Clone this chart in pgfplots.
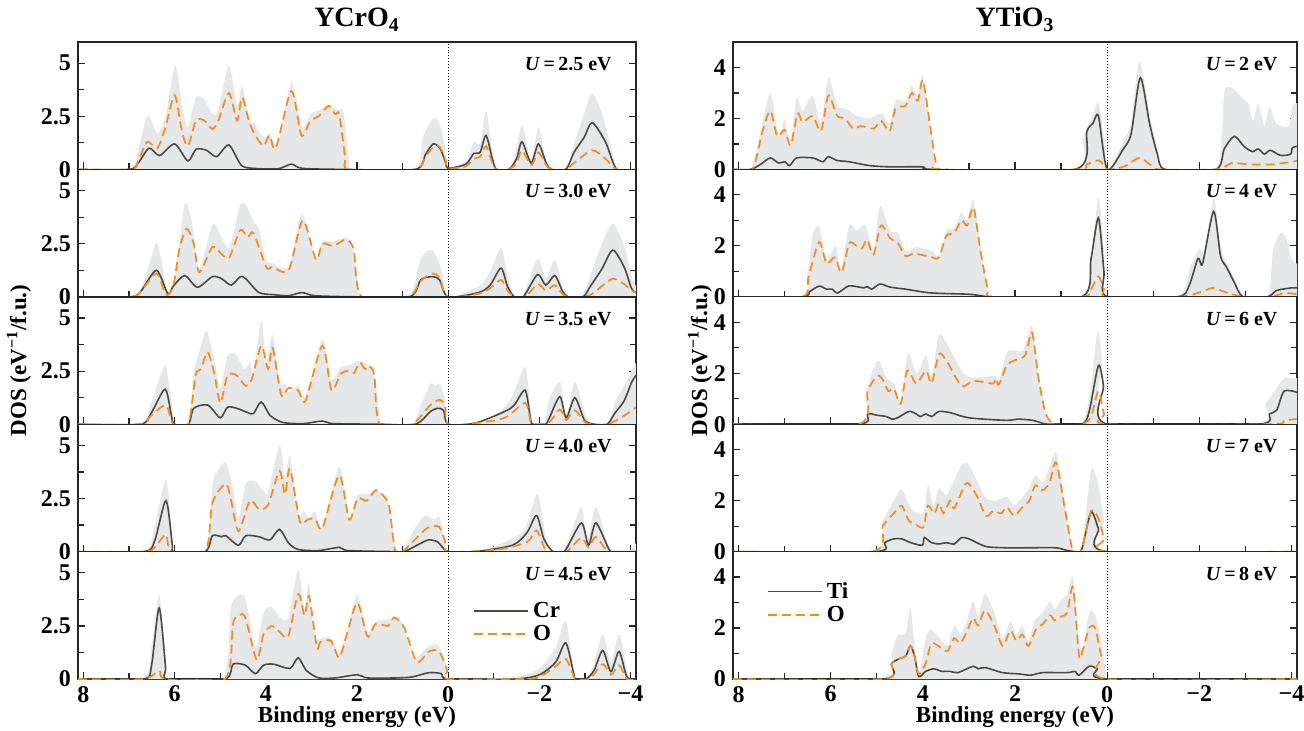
\documentclass[border=0pt]{standalone}
\usepackage{fontspec}
\setmainfont{Liberation Serif}
\usepackage{pgfplots}
\pgfplotsset{compat=1.18}
\definecolor{dosgrey}{HTML}{E6E7E8}
\definecolor{crline}{HTML}{4A4A42}
\definecolor{oline}{HTML}{F58A1F}
\newcommand\tickfont{\fontsize{12}{14}\selectfont\bfseries}
\newcommand\ulab[1]{\fontsize{10}{12}\selectfont\bfseries\textit{U}\,=\,#1 eV}
\tikzset{ulabst/.style={anchor=east, inner sep=0pt}}
\pgfplotsset{
  dosbase/.style={
    scale only axis, anchor=north west,
    xmin=-4.12, xmax=8.12, x dir=reverse, ymin=0,
    axis line style={line width=0.7pt, draw=black!85},
    tick align=inside, xtick pos=left, ytick pos=both, yticklabel pos=left,
    xtick={-4,-2,0,2,4,6,8}, minor xtick={-3,-1,1,3,5,7},
    xticklabels={},
    major tick length=3.5pt, minor tick length=3pt,
    every tick/.style={line width=0.6pt, black!85},
    tick label style={font=\tickfont},
    clip=true,
    every axis title/.style={at={(0.5,1)}, anchor=base, yshift=7.5pt, font=\fontsize{14}{16}\selectfont\bfseries},
  },
  leftcol/.style={dosbase, width=279pt, height=63.7pt, ymax=6,
    ytick={0,2.5,5}, yticklabels={0,2.5,5}, minor ytick={1.25,3.75}},
  rightcol/.style={dosbase, width=282pt, height=63.7pt, ymax=5,
    ytick={0,2,4}, yticklabels={0,2,4}, minor ytick={1,3}},
  bottomrow/.style={xticklabels={−4,−2,0,2,4,6,8},
    xlabel={Binding energy (eV)},
    xlabel style={font=\fontsize{11.5}{13}\selectfont\bfseries, at={(axis description cs:0.5,-0.3)}, anchor=center}},
  gfill/.style={fill=dosgrey, draw=none, forget plot, smooth, tension=0.45},
  crst/.style={color=crline, line width=0.8pt, smooth, tension=0.45},
  ost/.style={color=oline, line width=0.85pt, dash pattern=on 4.5pt off 2.5pt, smooth, tension=0.45},
  zst/.style={black, densely dotted, line width=0.45pt, forget plot},
  leg/.style={legend style={draw=none, fill=none, font=\fontsize{11.5}{13}\selectfont\bfseries,
     cells={anchor=west}, row sep=-1.5pt, inner sep=0pt},
     legend image code/.code={\draw[##1] (0pt,0pt) -- (27pt,0pt);}},
}
\begin{document}
\begin{tikzpicture}
\useasboundingbox (0,0) rectangle (652pt,-365.5pt);
%================= LEFT COLUMN: YCrO4 =================
\begin{axis}[leftcol, at={(39pt,-21pt)}, title={YCrO\textsubscript{4}}]
\addplot[gfill] coordinates {(8.12,0)(7.0,0)(6.87,0.3)(6.6,2.5)(6.38,1.7)(6.2,2.5)(5.99,4.9)(5.84,3.0)(5.71,2.0)(5.53,3.4)(5.35,3.3)(5.17,2.6)(5.04,2.8)(4.81,4.9)(4.63,3.0)(4.52,3.9)(4.36,2.4)(4.23,2.1)(4.05,1.5)(3.92,1.7)(3.74,1.2)(3.44,4.1)(3.2,2.0)(3.02,2.6)(2.84,2.8)(2.62,3.0)(2.44,2.8)(2.3,2.7)(2.17,0.3)(2.08,0)(0.73,0)(0.56,1.5)(0.33,2.4)(0.2,2.2)(0.08,1.2)(0,0.1)(-0.39,0.4)(-0.56,1.3)(-0.7,1.2)(-0.83,2.75)(-0.97,0.8)(-1.06,0)(-1.33,0)(-1.46,0.6)(-1.62,2.1)(-1.82,0.5)(-1.98,2.0)(-2.13,0.6)(-2.27,0)(-2.58,0)(-2.76,1.2)(-2.98,2.6)(-3.16,3.6)(-3.38,2.6)(-3.6,0.8)(-3.7,0)(-4.12,0)} \closedcycle;
\addplot[zst] coordinates {(0,0)(0,6)};
\addplot[crst] coordinates {(8.12,0)(7.0,0)(6.8,0.3)(6.56,1.0)(6.33,0.65)(6.0,1.2)(5.71,0.4)(5.53,0.95)(5.3,0.9)(5.08,0.6)(4.81,1.15)(4.54,0.2)(4.27,0.05)(3.73,0.03)(3.44,0.25)(3.2,0.05)(2.3,0)(0.73,0)(0.5,0.7)(0.33,1.2)(0.18,1.0)(0.05,0.3)(0,0.05)(-0.39,0.25)(-0.56,0.75)(-0.7,0.8)(-0.83,1.6)(-0.97,0.5)(-1.06,0)(-1.33,0)(-1.5,0.5)(-1.62,1.3)(-1.82,0.3)(-1.98,1.2)(-2.15,0.3)(-2.27,0)(-2.58,0)(-2.76,0.8)(-2.98,1.5)(-3.16,2.2)(-3.45,1.3)(-3.7,0)(-4.12,0)};
\addplot[ost] coordinates {(8.12,0)(6.96,0)(6.8,0.4)(6.6,1.3)(6.38,1.0)(6.2,2.0)(6.0,3.5)(5.84,1.8)(5.71,1.1)(5.53,2.3)(5.35,2.3)(5.17,1.9)(5.04,2.3)(4.81,3.6)(4.63,2.3)(4.52,3.4)(4.36,2.2)(4.23,1.6)(4.05,1.1)(3.92,1.6)(3.78,1.0)(3.44,3.7)(3.22,1.6)(3.02,2.3)(2.84,2.5)(2.62,3.0)(2.48,2.6)(2.39,2.6)(2.26,0.6)(2.17,0)(0.73,0)(0.5,0.6)(0.3,1.1)(0.18,1.05)(0.05,0.4)(0,0.05)(-0.39,0.15)(-0.56,0.5)(-0.7,0.6)(-0.83,1.1)(-0.97,0.3)(-1.06,0)(-1.33,0)(-1.5,0.3)(-1.62,0.9)(-1.82,0.2)(-1.98,0.8)(-2.15,0.2)(-2.27,0)(-2.58,0)(-2.76,0.3)(-3.16,0.9)(-3.45,0.5)(-3.7,0)(-4.12,0)};
\node[ulabst] at (rel axis cs:0.957,0.827) {\ulab{2.5}};
\end{axis}
\begin{axis}[leftcol, at={(39pt,-84.7pt)}]
\addplot[gfill] coordinates {(8.12,0)(7.0,0)(6.76,0.3)(6.56,1.5)(6.4,2.55)(6.27,1.5)(6.15,0.15)(6.03,0.5)(5.9,2.5)(5.77,4.4)(5.62,3.5)(5.46,1.3)(5.17,3.4)(4.97,2.8)(4.8,2.3)(4.56,4.35)(4.4,4.2)(4.27,3.5)(4.15,3.2)(3.99,1.7)(3.86,1.6)(3.5,1.4)(3.21,3.9)(2.92,1.8)(2.76,2.6)(2.52,2.6)(2.27,2.8)(2.11,2.5)(1.99,0.9)(1.86,0)(0.88,0)(0.6,1.8)(0.35,2.2)(0.15,1.3)(0,0)(-0.67,0.5)(-0.92,1.2)(-1.16,2.3)(-1.3,1.0)(-1.45,0)(-1.65,0.1)(-1.96,1.8)(-2.14,0.9)(-2.34,1.75)(-2.5,0.5)(-2.63,0)(-2.92,0)(-3.12,1.0)(-3.37,2.5)(-3.61,3.45)(-3.86,2.4)(-4.02,1.0)(-4.12,0.5)} \closedcycle;
\addplot[zst] coordinates {(0,0)(0,6)};
\addplot[crst] coordinates {(8.12,0)(7.0,0)(6.76,0.2)(6.4,1.25)(6.15,0.15)(6.03,0.5)(5.78,1.0)(5.5,0.45)(5.17,0.95)(4.97,0.85)(4.76,0.55)(4.56,0.95)(4.44,0.85)(4.15,0.2)(3.82,0.1)(3.5,0.05)(3.21,0.2)(2.92,0.05)(2.03,0)(0.85,0)(0.6,0.8)(0.35,0.95)(0.19,0.8)(0,0)(-0.67,0.2)(-0.92,0.55)(-1.16,1.35)(-1.3,0.5)(-1.45,0)(-1.65,0)(-1.96,1.05)(-2.14,0.55)(-2.34,1.0)(-2.5,0.3)(-2.63,0)(-2.96,0)(-3.12,0.5)(-3.37,1.3)(-3.61,2.2)(-3.86,1.4)(-4.02,0.4)(-4.12,0.2)};
\addplot[ost] coordinates {(8.12,0)(7.0,0)(6.76,0.2)(6.4,1.1)(6.19,0.1)(6.03,0.5)(5.9,2.2)(5.74,3.2)(5.58,2.5)(5.46,1.15)(5.17,2.35)(4.97,2.0)(4.8,1.85)(4.56,3.15)(4.4,2.8)(4.27,3.0)(3.99,1.4)(3.86,1.4)(3.5,1.25)(3.19,3.6)(2.9,1.75)(2.76,2.5)(2.52,2.4)(2.23,2.7)(2.07,2.2)(1.9,0)(0.88,0)(0.6,0.75)(0.35,1.1)(0.19,0.9)(0,0)(-0.67,0.15)(-0.92,0.4)(-1.16,0.8)(-1.3,0.3)(-1.45,0)(-1.7,0)(-1.96,0.6)(-2.14,0.3)(-2.34,0.55)(-2.5,0.15)(-2.63,0)(-3.0,0)(-3.2,0.2)(-3.37,0.5)(-3.61,0.85)(-3.86,0.6)(-4.02,0.3)(-4.12,0.2)};
\node[ulabst] at (rel axis cs:0.957,0.827) {\ulab{3.0}};
\end{axis}
\begin{axis}[leftcol, at={(39pt,-148.4pt)},
  ylabel={DOS (eV\textsuperscript{−1}/f.u.)},
  ylabel style={font=\fontsize{11.5}{13}\selectfont\bfseries, at={(axis description cs:-0.106,0.5)}, anchor=center}]
\addplot[gfill] coordinates {(8.12,0)(6.76,0)(6.52,1.0)(6.31,2.3)(6.19,2.7)(6.07,1.0)(6.01,0)(5.7,0)(5.58,2.5)(5.46,3.4)(5.3,4.4)(5.13,3.0)(5.0,1.7)(4.84,3.2)(4.66,3.3)(4.48,2.6)(4.35,2.9)(4.27,2.5)(4.1,4.85)(3.99,3.0)(3.85,4.2)(3.7,2.0)(3.58,1.9)(3.5,1.5)(3.29,1.8)(3.13,1.3)(2.76,4.0)(2.56,2.1)(2.35,2.7)(2.19,2.75)(1.94,3.0)(1.74,2.8)(1.62,2.5)(1.5,0.3)(1.41,0)(0.8,0)(0.6,0.9)(0.39,1.9)(0.27,1.8)(0.19,1.9)(0.07,1.2)(0,0)(-0.59,0.1)(-1.0,0.3)(-1.4,1.3)(-1.69,2.7)(-1.81,0.5)(-1.86,0)(-2.1,0)(-2.22,1.2)(-2.45,2.0)(-2.59,0.4)(-2.78,2.0)(-3.04,0.3)(-3.2,0)(-3.49,0)(-3.69,1.2)(-3.86,1.8)(-4.02,2.5)(-4.12,2.9)} \closedcycle;
\addplot[zst] coordinates {(0,0)(0,6)};
\addplot[crst] coordinates {(8.12,0)(6.76,0)(6.52,0.5)(6.21,1.65)(6.07,0.4)(6.01,0)(5.7,0)(5.58,0.75)(5.27,0.9)(5.0,0.3)(4.84,0.8)(4.64,0.75)(4.4,0.55)(4.27,0.5)(4.1,1.05)(3.9,0.4)(3.62,0.08)(3.17,0.03)(2.76,0.15)(2.52,0.03)(1.5,0)(0.72,0)(0.39,0.6)(0.23,0.75)(0.1,0.65)(0,0)(-0.59,0.05)(-1.24,0.6)(-1.45,0.9)(-1.69,1.6)(-1.81,0.2)(-1.86,0)(-2.14,0)(-2.22,0.3)(-2.45,1.3)(-2.59,0.3)(-2.78,1.25)(-2.99,0.2)(-3.2,0)(-3.49,0)(-3.65,0.5)(-3.86,1.1)(-4.02,1.95)(-4.12,2.3)};
\addplot[ost] coordinates {(8.12,0)(6.76,0)(6.52,0.4)(6.19,0.9)(6.03,0)(5.7,0)(5.54,2.3)(5.42,2.6)(5.28,3.4)(5.13,2.4)(5.0,1.0)(4.84,2.3)(4.64,2.3)(4.44,1.8)(4.31,2.1)(4.1,3.7)(3.95,2.6)(3.85,3.6)(3.66,1.35)(3.51,1.7)(3.29,1.6)(3.13,1.1)(2.76,3.7)(2.56,1.6)(2.35,2.4)(2.19,2.5)(2.07,2.4)(1.94,2.9)(1.82,2.6)(1.74,2.75)(1.62,2.3)(1.5,0)(0.8,0)(0.39,0.9)(0.19,1.15)(0.07,0.9)(0,0)(-0.59,0.05)(-1.24,0.3)(-1.69,1.0)(-1.81,0.1)(-1.9,0)(-2.22,0.1)(-2.45,0.7)(-2.59,0.2)(-2.78,0.65)(-3.04,0.05)(-3.49,0)(-3.86,0.4)(-4.02,0.65)(-4.12,0.8)};
\node[ulabst] at (rel axis cs:0.957,0.827) {\ulab{3.5}};
\end{axis}
\begin{axis}[leftcol, at={(39pt,-212.1pt)}]
\addplot[gfill] coordinates {(8.12,0)(6.68,0)(6.44,1.2)(6.19,3.4)(6.07,1.0)(6.02,0)(5.33,0)(5.17,3.2)(5.05,3.8)(4.88,4.2)(4.72,3.0)(4.6,1.6)(4.44,3.2)(4.23,3.3)(4.07,2.9)(3.95,2.8)(3.7,5.0)(3.58,3.5)(3.47,4.5)(3.29,1.8)(3.17,1.9)(3.04,1.6)(2.92,1.9)(2.76,1.2)(2.39,4.0)(2.17,1.6)(1.99,2.65)(1.78,2.7)(1.58,2.9)(1.37,2.6)(1.29,2.2)(1.16,0.3)(1.09,0)(1.0,0)(0.76,1.0)(0.51,1.7)(0.31,1.5)(0.19,1.6)(0.07,0.5)(0,0)(-0.59,0)(-1.08,0.3)(-1.65,1.0)(-1.94,2.7)(-2.06,1.8)(-2.18,0.1)(-2.3,0)(-2.55,0.1)(-2.92,2.1)(-3.04,0.4)(-3.24,2.1)(-3.53,0.1)(-3.6,0)(-3.95,0)(-4.12,0.4)} \closedcycle;
\addplot[zst] coordinates {(0,0)(0,6)};
\addplot[crst] coordinates {(8.12,0)(6.68,0)(6.44,0.5)(6.19,2.4)(6.05,0.3)(6.02,0)(5.33,0)(5.17,0.75)(4.97,0.7)(4.88,0.75)(4.6,0.3)(4.44,0.75)(4.15,0.7)(3.91,0.55)(3.7,1.05)(3.5,0.4)(3.29,0.1)(2.84,0.05)(2.39,0.2)(2.2,0.05)(1.2,0)(0.96,0)(0.64,0.35)(0.43,0.55)(0.23,0.45)(0,0)(-0.59,0)(-1.41,0.3)(-1.73,0.9)(-1.94,1.7)(-2.1,0.6)(-2.3,0)(-2.55,0)(-2.92,1.35)(-3.08,0.3)(-3.24,1.35)(-3.53,0.1)(-3.65,0)(-4.12,0)};
\addplot[ost] coordinates {(8.12,0)(6.68,0)(6.44,0.2)(6.19,0.8)(6.07,0)(5.33,0)(5.17,2.3)(4.88,3.2)(4.76,2.4)(4.6,0.95)(4.35,2.4)(4.15,2.0)(3.95,2.2)(3.7,3.8)(3.58,2.7)(3.47,3.9)(3.25,1.4)(3.09,1.5)(2.92,1.55)(2.76,1.1)(2.39,3.6)(2.17,1.5)(1.99,2.5)(1.78,2.4)(1.58,2.9)(1.37,2.5)(1.29,2.1)(1.16,0)(1.0,0)(0.76,0.5)(0.47,1.1)(0.31,1.2)(0.19,1.15)(0.07,0.5)(0,0)(-1.08,0.1)(-1.73,0.45)(-1.94,1.0)(-2.14,0.05)(-2.3,0)(-2.6,0)(-2.92,0.65)(-3.08,0.2)(-3.24,0.7)(-3.53,0)(-4.12,0)};
\node[ulabst] at (rel axis cs:0.957,0.827) {\ulab{4.0}};
\end{axis}
\begin{axis}[leftcol, bottomrow, at={(39pt,-275.8pt)}, leg,
  legend style={at={(rel axis cs:0.708,0.64)}, anchor=north west}]
\addplot[gfill] coordinates {(8.12,0)(6.69,0)(6.51,1.5)(6.34,4.0)(6.2,1.0)(6.16,0)(4.95,0)(4.77,3.3)(4.63,3.9)(4.45,3.8)(4.23,1.5)(4.05,3.1)(3.87,3.4)(3.69,2.9)(3.51,2.9)(3.29,5.15)(3.15,3.2)(3.06,4.55)(2.93,2.0)(2.8,1.9)(2.57,1.95)(2.39,1.2)(2.21,2.4)(1.99,3.95)(1.77,2.2)(1.59,2.7)(1.32,2.8)(1.14,2.9)(0.96,2.5)(0.82,1.1)(0.69,1.0)(0.42,1.55)(0.2,1.55)(0.02,0.5)(0,0)(-1.46,0.1)(-2.0,0.5)(-2.36,1.5)(-2.58,2.75)(-2.76,0.2)(-2.8,0)(-3.02,0)(-3.16,0.5)(-3.39,2.1)(-3.57,0.8)(-3.75,2.1)(-3.92,0.5)(-4.0,0)(-4.12,0)} \closedcycle;
\addplot[zst] coordinates {(0,0)(0,6)};
\addplot[crst] coordinates {(8.12,0)(6.69,0)(6.51,0.6)(6.34,3.35)(6.2,0.6)(6.16,0)(4.9,0)(4.72,0.7)(4.45,0.65)(4.23,0.25)(4.05,0.65)(3.83,0.7)(3.47,0.5)(3.29,1.0)(3.11,0.4)(2.84,0.05)(2.48,0.05)(1.99,0.2)(1.77,0.05)(1.14,0.05)(0.78,0.1)(0.42,0.3)(0.15,0.25)(0,0)(-1.46,0)(-2.0,0.2)(-2.36,0.8)(-2.58,1.7)(-2.76,0.2)(-2.8,0)(-3.02,0)(-3.2,0.4)(-3.39,1.35)(-3.57,0.35)(-3.75,1.3)(-3.92,0.1)(-4.12,0)};
\addlegendentry{Cr}
\addplot[ost] coordinates {(8.12,0)(6.69,0)(6.34,0.4)(6.2,0)(4.9,0)(4.72,2.6)(4.59,3.0)(4.45,2.9)(4.2,0.9)(4.05,2.1)(3.87,2.5)(3.69,2.2)(3.51,2.0)(3.29,4.0)(3.15,3.0)(3.05,3.9)(2.88,1.5)(2.8,1.75)(2.57,1.8)(2.39,1.0)(2.21,2.2)(1.99,3.6)(1.77,2.0)(1.59,2.6)(1.32,2.5)(1.18,2.9)(0.96,2.4)(0.69,0.8)(0.42,1.3)(0.2,1.3)(0.02,0.4)(0,0)(-1.6,0)(-2.0,0.1)(-2.36,0.6)(-2.58,0.95)(-2.76,0.1)(-2.8,0)(-3.1,0)(-3.39,0.7)(-3.57,0.2)(-3.75,0.65)(-3.92,0)(-4.12,0)};
\addlegendentry{O}
\node[ulabst] at (rel axis cs:0.957,0.827) {\ulab{4.5}};
\end{axis}
%================= RIGHT COLUMN: YTiO3 =================
\begin{axis}[rightcol, at={(366.5pt,-21pt)}, title={YTiO\textsubscript{3}}]
\addplot[gfill] coordinates {(8.12,0)(7.74,0)(7.52,1.5)(7.31,3.0)(7.13,1.3)(7.0,1.95)(6.87,1.0)(6.74,2.8)(6.61,2.3)(6.39,2.9)(6.21,1.8)(6.05,3.6)(5.86,2.5)(5.69,2.4)(5.42,2.1)(5.16,2.0)(4.9,2.2)(4.72,1.8)(4.59,2.7)(4.37,2.7)(4.24,3.3)(4.11,2.9)(4.0,3.7)(3.85,2.0)(3.72,0.3)(3.59,0)(0.7,0)(0.52,1.2)(0.31,2.2)(0.19,2.6)(0.09,1.5)(0,0)(-0.17,0.4)(-0.39,1.3)(-0.52,1.8)(-0.7,4.25)(-0.92,2.2)(-1.09,0.8)(-1.22,0)(-2.36,0)(-2.54,3.0)(-2.71,3.2)(-2.93,2.8)(-3.06,2.6)(-3.16,1.9)(-3.28,2.55)(-3.41,1.7)(-3.52,2.45)(-3.67,1.8)(-3.94,1.7)(-4.02,2.5)(-4.12,2.6)} \closedcycle;
\addplot[zst] coordinates {(0,0)(0,5)};
\addplot[crst] coordinates {(8.12,0)(7.74,0)(7.52,0.2)(7.31,0.45)(7.13,0.25)(7.0,0.3)(6.89,0.15)(6.74,0.45)(6.39,0.45)(6.17,0.3)(6.05,0.5)(5.86,0.35)(5.6,0.3)(5.16,0.15)(4.72,0.1)(4.0,0.1)(3.76,0)(0.7,0)(0.44,1.5)(0.31,1.8)(0.19,2.1)(0,0)(-0.35,0.8)(-0.52,1.4)(-0.72,3.6)(-0.92,1.8)(-1.09,0.6)(-1.26,0)(-2.36,0)(-2.54,0.8)(-2.76,1.3)(-2.97,0.9)(-3.15,0.7)(-3.28,0.8)(-3.41,0.6)(-3.54,0.75)(-3.76,0.55)(-3.98,0.6)(-4.02,0.85)(-4.12,0.9)};
\addplot[ost] coordinates {(8.12,0)(7.7,0)(7.48,1.5)(7.31,2.3)(7.16,1.3)(7.0,1.55)(6.87,0.95)(6.72,2.2)(6.61,1.85)(6.39,2.1)(6.21,1.5)(6.05,2.9)(5.86,2.1)(5.69,2.0)(5.51,1.6)(5.34,1.7)(5.07,1.6)(4.9,1.9)(4.72,1.5)(4.59,2.4)(4.37,2.5)(4.24,3.0)(4.11,2.7)(4.0,3.5)(3.85,1.8)(3.72,0.3)(3.59,0)(0.7,0)(0.44,0.2)(0.17,0.35)(0,0)(-0.35,0.1)(-0.7,0.45)(-0.96,0.15)(-1.14,0)(-2.36,0)(-2.71,0.25)(-3.06,0.2)(-3.58,0.2)(-4.02,0.3)(-4.12,0.35)};
\node[ulabst] at (rel axis cs:0.966,0.827) {\ulab{2}};
\end{axis}
\begin{axis}[rightcol, at={(366.5pt,-84.7pt)}]
\addplot[gfill] coordinates {(8.12,0)(6.62,0)(6.5,1.0)(6.38,2.5)(6.25,2.75)(6.09,1.5)(5.89,2.0)(5.78,1.0)(5.6,2.8)(5.44,2.6)(5.24,2.8)(5.07,1.8)(4.93,3.55)(4.71,2.6)(4.54,2.5)(4.38,1.8)(4.14,1.95)(3.81,1.8)(3.65,1.6)(3.49,2.6)(3.32,2.7)(3.16,3.3)(3.04,3.0)(2.9,3.8)(2.75,2.0)(2.59,0.3)(2.47,0)(0.55,0)(0.35,1.5)(0.19,3.9)(0.08,2.0)(0,0)(-1.52,0)(-1.81,1.2)(-2.01,1.9)(-2.13,1.7)(-2.31,3.9)(-2.46,2.0)(-2.58,1.4)(-2.79,0.6)(-2.95,0)(-3.48,0)(-3.6,1.8)(-3.76,2.5)(-3.88,2.3)(-4.0,1.5)(-4.12,1.3)} \closedcycle;
\addplot[zst] coordinates {(0,0)(0,5)};
\addplot[crst] coordinates {(8.12,0)(6.62,0)(6.46,0.2)(6.25,0.42)(6.09,0.3)(5.97,0.3)(5.85,0.15)(5.62,0.42)(5.44,0.4)(5.28,0.35)(5.2,0.4)(5.11,0.3)(4.93,0.5)(4.71,0.38)(4.38,0.3)(3.81,0.15)(3.0,0.1)(2.67,0.02)(2.5,0)(0.55,0)(0.35,1.5)(0.19,3.1)(0.07,1.0)(0,0)(-1.52,0)(-1.77,0.4)(-1.97,1.5)(-2.07,1.3)(-2.31,3.35)(-2.46,1.6)(-2.58,1.2)(-2.75,0.6)(-2.95,0)(-3.48,0)(-3.68,0.25)(-4.0,0.35)(-4.12,0.35)};
\addplot[ost] coordinates {(8.12,0)(6.62,0)(6.48,0.8)(6.25,2.15)(6.09,1.3)(5.91,1.55)(5.76,0.95)(5.6,2.1)(5.44,2.0)(5.32,1.9)(5.21,2.25)(5.07,1.65)(4.91,2.8)(4.71,2.3)(4.54,2.1)(4.38,1.6)(4.18,1.7)(3.81,1.55)(3.65,1.55)(3.49,2.4)(3.32,2.5)(3.16,3.0)(3.04,2.8)(2.9,3.5)(2.75,1.8)(2.59,0.3)(2.47,0)(0.55,0)(0.35,0.3)(0.19,0.8)(0.07,0.3)(0,0)(-1.56,0)(-2.05,0.2)(-2.29,0.35)(-2.54,0.2)(-2.95,0)(-3.53,0)(-3.86,0.15)(-4.12,0.1)};
\node[ulabst] at (rel axis cs:0.966,0.827) {\ulab{4}};
\end{axis}
\begin{axis}[rightcol, at={(366.5pt,-148.4pt)},
  ylabel={DOS (eV\textsuperscript{−1}/f.u.)},
  ylabel style={font=\fontsize{11.5}{13}\selectfont\bfseries, at={(axis description cs:-0.0585,0.5)}, anchor=center}]
\addplot[gfill] coordinates {(8.12,0)(5.4,0)(5.24,1.2)(5.07,2.2)(4.95,2.5)(4.79,1.8)(4.63,1.6)(4.48,0.9)(4.32,2.8)(4.14,2.0)(3.93,2.7)(3.81,1.9)(3.65,3.5)(3.49,3.2)(3.16,2.1)(3.0,1.85)(2.67,1.85)(2.43,1.9)(2.35,1.7)(2.18,2.8)(2.02,2.9)(1.82,2.9)(1.63,3.85)(1.49,2.0)(1.33,0.5)(1.12,0)(0.55,0)(0.35,1.5)(0.21,3.65)(0.11,2.5)(0,0)(-3.27,0)(-3.44,0.8)(-3.6,1.2)(-3.84,1.8)(-4.12,1.8)} \closedcycle;
\addplot[zst] coordinates {(0,0)(0,5)};
\addplot[crst] coordinates {(8.12,0)(5.4,0)(5.2,0.4)(4.99,0.35)(4.79,0.3)(4.67,0.2)(4.55,0.25)(4.3,0.5)(4.14,0.4)(4.06,0.3)(3.93,0.4)(3.81,0.3)(3.65,0.5)(3.4,0.45)(3.0,0.25)(2.18,0.15)(1.94,0.2)(1.61,0.15)(1.37,0.02)(1.2,0)(0.55,0)(0.39,0.5)(0.19,2.3)(0.08,1.5)(0,0)(-3.27,0)(-3.52,0.4)(-3.68,0.55)(-3.84,1.3)(-4.12,1.25)};
\addplot[ost] coordinates {(8.12,0)(5.4,0)(5.2,1.3)(4.99,1.9)(4.87,1.75)(4.75,1.3)(4.63,1.4)(4.48,0.8)(4.34,2.1)(4.14,1.6)(3.93,2.1)(3.81,1.6)(3.65,2.75)(3.49,2.5)(3.16,1.5)(2.92,1.7)(2.67,1.65)(2.47,1.6)(2.41,1.8)(2.35,1.55)(2.18,2.3)(2.02,2.5)(1.78,2.7)(1.63,3.6)(1.49,1.8)(1.33,0.4)(1.12,0)(0.55,0)(0.35,0.3)(0.19,1.3)(0.07,0.4)(0,0)(-3.52,0)(-3.84,0.15)(-4.12,0.2)};
\node[ulabst] at (rel axis cs:0.966,0.827) {\ulab{6}};
\end{axis}
\begin{axis}[rightcol, at={(366.5pt,-212.1pt)}]
\addplot[gfill] coordinates {(8.12,0)(5.11,0)(4.87,1.2)(4.63,2.0)(4.46,2.45)(4.26,1.7)(3.99,1.5)(3.89,2.6)(3.77,1.8)(3.65,2.5)(3.49,2.2)(3.32,2.8)(3.16,3.4)(3.02,3.45)(2.83,2.8)(2.63,2.1)(2.43,2.0)(2.18,2.15)(2.02,1.8)(1.9,2.0)(1.69,2.5)(1.56,3.0)(1.41,2.7)(1.29,3.1)(1.11,3.9)(0.92,2.0)(0.76,0.2)(0.68,0)(0.55,0.1)(0.35,3.2)(0.19,2.6)(0.07,1.2)(0,0)(-4.12,0)} \closedcycle;
\addplot[zst] coordinates {(0,0)(0,5)};
\addplot[crst] coordinates {(8.12,0)(5.03,0)(4.83,0.35)(4.63,0.5)(4.46,0.5)(4.26,0.35)(4.01,0.25)(3.97,0.55)(3.81,0.35)(3.65,0.3)(3.49,0.35)(3.32,0.3)(3.16,0.55)(3.0,0.5)(2.63,0.2)(2.18,0.15)(1.69,0.15)(1.12,0.15)(0.88,0.05)(0.68,0)(0.55,0.1)(0.35,1.55)(0.19,0.9)(0,0)(-4.12,0)};
\addplot[ost] coordinates {(8.12,0)(5.11,0)(4.87,1.0)(4.63,1.5)(4.46,1.8)(4.3,1.2)(4.18,1.1)(3.99,0.95)(3.89,1.8)(3.75,1.5)(3.65,1.9)(3.55,1.5)(3.41,2.0)(3.32,1.7)(3.12,2.5)(3.02,2.7)(2.83,2.2)(2.63,1.4)(2.47,1.6)(2.3,1.5)(2.18,1.75)(2.02,1.4)(1.86,1.7)(1.69,2.0)(1.56,2.6)(1.41,2.4)(1.25,2.7)(1.11,3.5)(0.92,1.7)(0.76,0.1)(0.68,0)(0.55,0.1)(0.35,1.6)(0.19,1.3)(0.07,0.5)(0,0)(-4.12,0)};
\node[ulabst] at (rel axis cs:0.966,0.827) {\ulab{7}};
\end{axis}
\begin{axis}[rightcol, bottomrow, at={(366.5pt,-275.8pt)}, leg,
  legend style={at={(rel axis cs:0.06,0.795)}, anchor=north west}]
\addplot[gfill] coordinates {(8.12,0)(4.86,0)(4.68,1.0)(4.55,1.7)(4.37,1.8)(4.27,2.8)(4.16,1.0)(4.07,0.3)(3.94,1.6)(3.81,1.95)(3.59,1.5)(3.46,1.35)(3.32,2.1)(3.19,1.75)(3.06,2.2)(2.91,3.05)(2.8,2.5)(2.65,3.35)(2.45,2.6)(2.27,1.6)(2.1,2.25)(1.97,1.7)(1.84,2.1)(1.71,1.5)(1.57,2.3)(1.4,2.6)(1.24,3.05)(1.14,2.7)(1.01,3.1)(0.87,3.3)(0.74,4.0)(0.61,1.5)(0.52,1.2)(0.39,2.6)(0.26,2.5)(0.13,1.5)(0.02,0.1)(0,0)(-4.12,0)} \closedcycle;
\addplot[zst] coordinates {(0,0)(0,5)};
\addplot[crst] coordinates {(8.12,0)(4.86,0)(4.68,0.6)(4.51,0.8)(4.37,0.9)(4.27,1.3)(4.18,0.9)(4.09,0.1)(3.94,0.3)(3.76,0.4)(3.59,0.3)(3.41,0.3)(3.24,0.25)(2.91,0.5)(2.8,0.4)(2.65,0.45)(2.27,0.25)(1.92,0.2)(1.66,0.15)(1.4,0.25)(0.87,0.25)(0.7,0.3)(0.61,0.15)(0.39,0.5)(0.22,0.4)(0,0)(-4.12,0)};
\addlegendentry{Ti}
\addplot[ost] coordinates {(8.12,0)(4.86,0)(4.68,0.6)(4.51,0.8)(4.37,0.9)(4.27,1.3)(4.18,0.9)(4.09,0.2)(3.94,0.6)(3.81,1.4)(3.59,1.2)(3.46,1.1)(3.32,1.6)(3.19,1.4)(3.06,1.8)(2.91,2.4)(2.8,2.1)(2.65,2.7)(2.45,2.1)(2.27,1.3)(2.1,1.9)(1.97,1.5)(1.84,1.75)(1.71,1.3)(1.53,2.0)(1.4,2.15)(1.24,2.5)(1.14,2.3)(1.01,2.45)(0.87,2.6)(0.74,3.6)(0.61,0.9)(0.52,1.2)(0.39,2.0)(0.26,2.0)(0.13,0.9)(0,0)(-4.12,0)};
\addlegendentry{O}
\node[ulabst] at (rel axis cs:0.966,0.827) {\ulab{8}};
\end{axis}
\end{tikzpicture}
\end{document}
